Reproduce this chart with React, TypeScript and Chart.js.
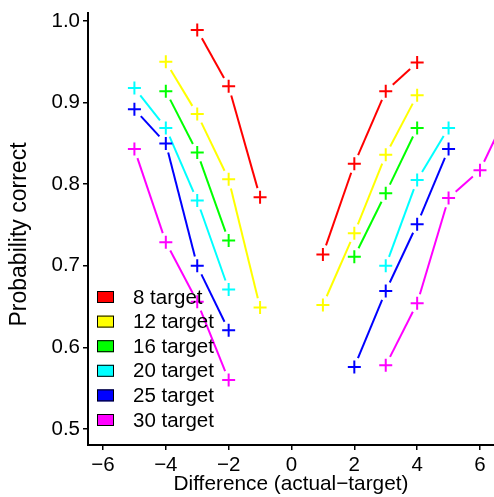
import { useEffect, useRef } from "react";
import { Chart, registerables } from "chart.js";

Chart.register(...registerables);

// ---- data ----
const xLeft = [-5, -4, -3, -2, -1];
const xRight = [1, 2, 3, 4, 5, 6, 7];

const t8Left = [null, null, 0.989, 0.92, 0.784];
const t8Right = [0.714, 0.825, 0.914, 0.949, null, null, null];
const t12Left = [null, 0.95, 0.886, 0.806, 0.649];
const t12Right = [0.652, 0.74, 0.836, 0.909, null, null, null];
const t16Left = [null, 0.914, 0.839, 0.731, null];
const t16Right = [null, 0.711, 0.789, 0.869, null, null, null];
const t20Left = [0.918, 0.869, 0.78, 0.671, null];
const t20Right = [null, null, 0.7, 0.805, 0.869, null, null];
const t25Left = [0.892, 0.85, 0.7, 0.621, null];
const t25Right = [null, 0.576, 0.669, 0.751, 0.843, null, null];
const t30Left = [0.843, 0.729, 0.656, 0.56, null];
const t30Right = [null, null, 0.578, 0.654, 0.783, 0.817, 0.898];

const seriesLabels = ["8 target", "12 target", "16 target", "20 target", "25 target", "30 target"];
const seriesColors = ["#FF0000", "#FFFF00", "#00FF00", "#00FFFF", "#0000FF", "#FF00FF"];
const leftValues = [t8Left, t12Left, t16Left, t20Left, t25Left, t30Left];
const rightValues = [t8Right, t12Right, t16Right, t20Right, t25Right, t30Right];

const xTicks = [-6, -4, -2, 0, 2, 4, 6];
const xTickLabels = ["\u22126", "\u22124", "\u22122", "0", "2", "4", "6"];
const yTicks = [0.5, 0.6, 0.7, 0.8, 0.9, 1.0];
const yTickLabels = ["0.5", "0.6", "0.7", "0.8", "0.9", "1.0"];

const xTitle = "Difference (actual\u2212target)";
const yTitle = "Probability correct";

const FONT = '"Liberation Sans", Arial, Helvetica, sans-serif';

export default function App() {
  const ref = useRef<HTMLCanvasElement>(null);

  useEffect(() => {
    if (!ref.current) return;

    const datasets = seriesLabels.map((label, i) => {
      const data: { x: number; y: number }[] = [];
      xLeft.forEach((x, j) => {
        const v = leftValues[i][j];
        if (v != null) data.push({ x, y: v });
      });
      xRight.forEach((x, j) => {
        const v = rightValues[i][j];
        if (v != null) data.push({ x, y: v });
      });
      return {
        label,
        data,
        borderColor: seriesColors[i],
        backgroundColor: seriesColors[i],
        showLine: false,
        pointStyle: "cross" as const,
        pointRadius: 6.5,
        pointHoverRadius: 6.5,
        pointBorderWidth: 2,
      };
    });

    const gapLines = {
      id: "gapLines",
      beforeDatasetsDraw(chart: any) {
        const { ctx, chartArea } = chart;
        const gap = 9.5;
        ctx.save();
        ctx.beginPath();
        ctx.rect(chartArea.left, chartArea.top, chartArea.right - chartArea.left, chartArea.bottom - chartArea.top);
        ctx.clip();
        ctx.lineWidth = 2;
        ctx.lineCap = "butt";
        chart.data.datasets.forEach((ds: any, di: number) => {
          const meta = chart.getDatasetMeta(di);
          ctx.strokeStyle = ds.borderColor;
          for (let k = 0; k < meta.data.length - 1; k++) {
            const r0 = ds.data[k];
            const r1 = ds.data[k + 1];
            if (Math.abs(r1.x - r0.x) !== 1) continue;
            const p0 = meta.data[k];
            const p1 = meta.data[k + 1];
            const dx = p1.x - p0.x;
            const dy = p1.y - p0.y;
            const d = Math.hypot(dx, dy);
            if (d <= 2 * gap) continue;
            const ux = dx / d;
            const uy = dy / d;
            ctx.beginPath();
            ctx.moveTo(p0.x + ux * gap, p0.y + uy * gap);
            ctx.lineTo(p1.x - ux * gap, p1.y - uy * gap);
            ctx.stroke();
          }
        });
        ctx.restore();
      },
    };

    const extras = {
      id: "extras",
      afterDraw(chart: any) {
        const { ctx, chartArea } = chart;
        ctx.save();
        // y axis title (R places it centred a bit lower than Chart.js would)
        ctx.save();
        ctx.translate(20, chartArea.top + 221.5);
        ctx.rotate(-Math.PI / 2);
        ctx.font = `23px ${FONT}`;
        ctx.fillStyle = "#000";
        ctx.textAlign = "center";
        ctx.textBaseline = "middle";
        ctx.fillText(yTitle, 0, 0);
        ctx.restore();
        // legend
        ctx.font = `20.5px ${FONT}`;
        ctx.textBaseline = "middle";
        ctx.textAlign = "left";
        seriesLabels.forEach((label, i) => {
          const cy = chartArea.top + 284 + i * 24.6;
          const bx = chartArea.left + 9;
          ctx.fillStyle = seriesColors[i];
          ctx.fillRect(bx, cy - 6, 17, 12);
          ctx.strokeStyle = "#000";
          ctx.lineWidth = 1;
          ctx.strokeRect(bx + 0.5, cy - 6 + 0.5, 16, 11);
          ctx.fillStyle = "#000";
          ctx.fillText(label, chartArea.left + 45, cy + 1);
        });
        ctx.restore();
      },
    };

    const chart = new Chart(ref.current, {
      type: "scatter",
      data: { datasets },
      options: {
        responsive: false,
        animation: false,
        devicePixelRatio: 1,
        events: [],
        layout: { autoPadding: false, padding: { top: 13, right: 0, left: 0, bottom: 0 } },
        plugins: {
          legend: { display: false },
          tooltip: { enabled: false },
        },
        scales: {
          x: {
            type: "linear",
            min: -6.477,
            max: 6.446,
            afterBuildTicks: (s: any) => {
              s.ticks = xTicks.map((v) => ({ value: v }));
            },
            afterFit: (s: any) => {
              s.height = 52;
              s.paddingLeft = 0;
              s.paddingRight = 0;
            },
            grid: {
              drawOnChartArea: false,
              drawTicks: true,
              tickLength: 5,
              color: "#000",
              lineWidth: 1.5,
            },
            border: { display: true, color: "#000", width: 2 },
            ticks: {
              color: "#000",
              font: { family: FONT, size: 20.5 },
              padding: 3,
              maxRotation: 0,
              autoSkip: false,
              callback: (v: any) => xTickLabels[xTicks.indexOf(Number(v))] ?? "",
            },
            title: {
              display: true,
              text: xTitle,
              color: "#000",
              font: { family: FONT, size: 20.8 },
              padding: { top: 0, bottom: 0 },
            },
          },
          y: {
            type: "linear",
            min: 0.4804,
            max: 1.0098,
            afterBuildTicks: (s: any) => {
              s.ticks = yTicks.map((v) => ({ value: v }));
            },
            afterFit: (s: any) => {
              s.width = 88;
              s.paddingTop = 0;
              s.paddingBottom = 0;
            },
            grid: {
              drawOnChartArea: false,
              drawTicks: true,
              tickLength: 5,
              color: "#000",
              lineWidth: 1.5,
            },
            border: { display: true, color: "#000", width: 2 },
            ticks: {
              color: "#000",
              font: { family: FONT, size: 20.5 },
              padding: 3,
              autoSkip: false,
              callback: (v: any) => {
                const idx = yTicks.findIndex((t) => Math.abs(t - Number(v)) < 1e-9);
                return idx >= 0 ? yTickLabels[idx] : "";
              },
            },
            title: { display: false },
          },
        },
      },
      plugins: [gapLines, extras],
    });

    return () => chart.destroy();
  }, []);

  return (
    <div style={{ position: "absolute", left: 0, top: 0, width: 494, height: 497, background: "#fff" }}>
      <canvas ref={ref} width={494} height={497} style={{ display: "block" }} />
    </div>
  );
}
